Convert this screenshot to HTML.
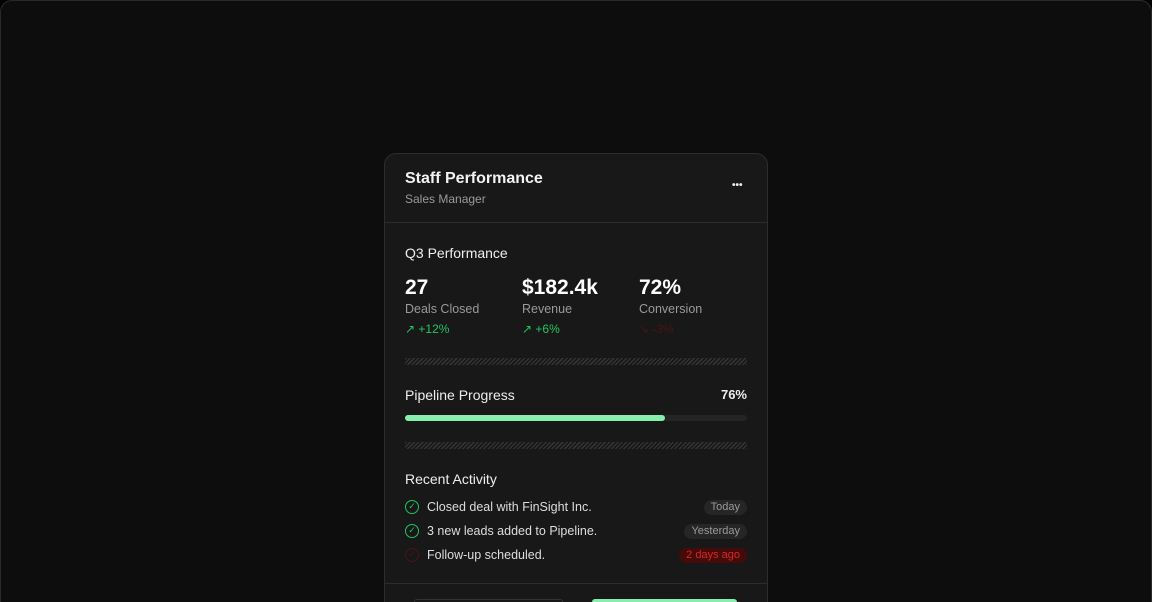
<!DOCTYPE html>
<html><head><style>
*{box-sizing:border-box;margin:0;padding:0}
html,body{width:1152px;height:602px;overflow:hidden;background:#000;font-family:"Liberation Sans",Arial,sans-serif}
.frame{position:absolute;left:0;top:0;width:1152px;height:602px;background:#0d0d0d;border:1px solid #2a2a2a;border-bottom:none;border-radius:12px 12px 0 0;overflow:hidden}
.card{position:absolute;left:383px;top:152px;width:384px;height:449px;background:#181818;border:1px solid #2c2c2c;border-bottom:none;border-radius:12px 12px 0 0;overflow:hidden}
.a{position:absolute;white-space:nowrap}
.hatch{position:absolute;left:20px;width:342px;height:7px;background:repeating-linear-gradient(135deg,#333 0 1.5px,#161616 1.5px 3px)}
.g{color:#22c55e}
.pill{position:absolute;right:20px;height:15px;border-radius:8px;background:#262626;color:#9a9a9a;font-size:11px;line-height:15px;padding:0 7px}
.ck{position:absolute;left:20px;width:14px;height:14px;border:1.5px solid #22c55e;border-radius:50%;color:#22c55e;font-size:9px;line-height:11px;text-align:center}
</style></head><body>
<div class="frame">
<div class="card">
 <div class="a" style="left:20px;top:16px;color:#f2f2f2;font-size:16px;font-weight:bold">Staff Performance</div>
 <div class="a" style="left:20px;top:38px;color:#9a9a9a;font-size:12px">Sales Manager</div>
 <div class="a" style="left:347px;top:26px;color:#eee;font-size:10px;font-weight:bold">•••</div>
 <div style="position:absolute;left:0;top:68px;width:100%;height:1px;background:#2c2c2c"></div>
 <div class="a" style="left:20px;top:91px;color:#eee;font-size:14px">Q3 Performance</div>
 <div class="a" style="left:20px;top:122px;color:#fff;font-size:21px;font-weight:bold">27</div>
 <div class="a" style="left:20px;top:148px;color:#9a9a9a;font-size:12.5px">Deals Closed</div>
 <div class="a g" style="left:20px;top:168px;font-size:12px">↗ +12%</div>
 <div class="a" style="left:137px;top:122px;color:#fff;font-size:21px;font-weight:bold">$182.4k</div>
 <div class="a" style="left:137px;top:148px;color:#9a9a9a;font-size:12.5px">Revenue</div>
 <div class="a g" style="left:137px;top:168px;font-size:12px">↗ +6%</div>
 <div class="a" style="left:254px;top:122px;color:#fff;font-size:21px;font-weight:bold">72%</div>
 <div class="a" style="left:254px;top:148px;color:#9a9a9a;font-size:12.5px">Conversion</div>
 <div class="a" style="left:254px;top:168px;font-size:12px;color:#4a1414">↘ -3%</div>
 <div class="hatch" style="top:204px"></div>
 <div class="a" style="left:20px;top:233px;color:#eee;font-size:14px">Pipeline Progress</div>
 <div class="a" style="right:20px;top:233px;color:#eee;font-size:13px;font-weight:bold">76%</div>
 <div style="position:absolute;left:20px;top:261px;width:342px;height:6px;border-radius:3px;background:#242424"><div style="width:260px;height:6px;border-radius:3px;background:#86efac"></div></div>
 <div class="hatch" style="top:288px"></div>
 <div class="a" style="left:20px;top:317px;color:#eee;font-size:14px">Recent Activity</div>
 <div class="ck" style="top:346px">✓</div>
 <div class="a" style="left:42px;top:346px;color:#ddd;font-size:12.5px">Closed deal with FinSight Inc.</div>
 <div class="pill" style="top:346px">Today</div>
 <div class="ck" style="top:370px">✓</div>
 <div class="a" style="left:42px;top:370px;color:#ddd;font-size:12.5px">3 new leads added to Pipeline.</div>
 <div class="pill" style="top:370px">Yesterday</div>
 <div class="ck" style="top:394px;border-color:#4a1414;color:#4a1414">✓</div>
 <div class="a" style="left:42px;top:394px;color:#ddd;font-size:12.5px">Follow-up scheduled.</div>
 <div class="pill" style="top:394px;background:#450a0a;color:#dc2626">2 days ago</div>
 <div style="position:absolute;left:0;top:429px;width:100%;height:1px;background:#2c2c2c"></div>
 <div style="position:absolute;left:29px;top:445px;width:149px;height:3px;border:1px solid #333;border-bottom:none;border-radius:10px 10px 0 0"></div>
 <div style="position:absolute;left:207px;top:445px;width:145px;height:3px;background:#86efac;border-radius:10px 10px 0 0"></div>
</div>
</div>
</body></html>
